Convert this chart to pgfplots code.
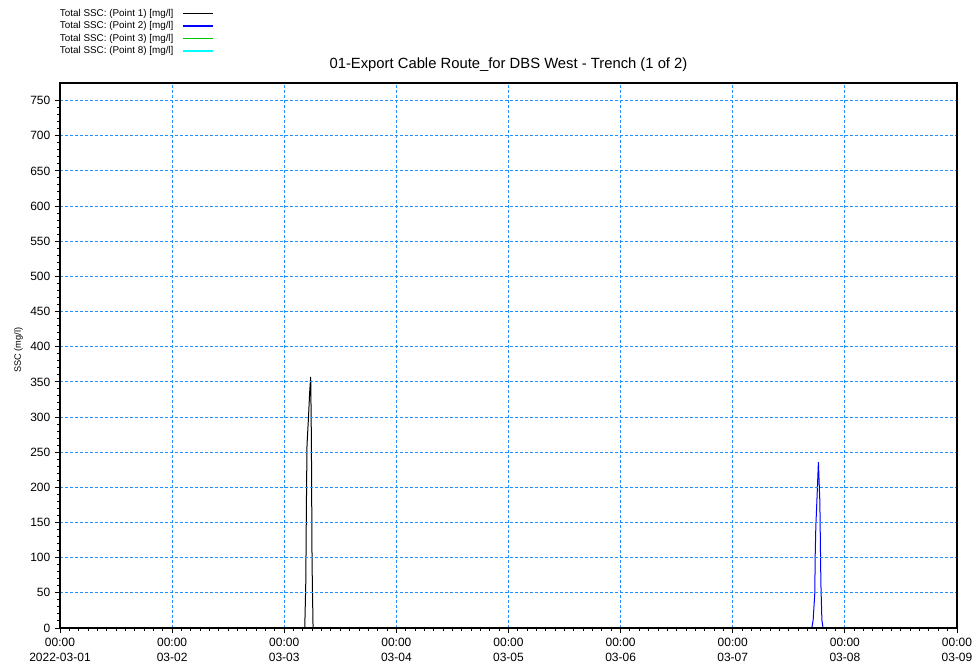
\documentclass[border=0pt]{standalone}
\usepackage{fontspec}
\setmainfont{Liberation Sans}
\usepackage{pgfplots}
\pgfplotsset{compat=1.18}
\definecolor{gridblue}{RGB}{30,144,255}
\definecolor{ptgreen}{RGB}{0,200,0}
\definecolor{ptcyan}{RGB}{0,255,255}

\begin{document}
\begin{tikzpicture}
\useasboundingbox (0,0) rectangle (730.5pt,501pt);
\begin{axis}[
    at={(45pt,30pt)}, anchor=south west,
    scale only axis, width=672.75pt, height=408.75pt,
    xmin=0, xmax=8, ymin=0, ymax=775,
    xtick={0,...,8},
    xticklabels={{00:00\\2022-03-01},{00:00\\03-02},{00:00\\03-03},{00:00\\03-04},{00:00\\03-05},{00:00\\03-06},{00:00\\03-07},{00:00\\03-08},{00:00\\03-09}},
    minor x tick num=11,
    ytick={0,50,...,750},
    minor y tick num=4,
    tick pos=left, tick align=outside,
    major tick length=3.75pt, minor tick length=2.25pt,
    every tick/.style={black, line width=0.75pt},
    axis line style={line width=0.9pt},
    grid=major,
    major grid style={gridblue, line width=0.75pt, dash pattern=on 2.25pt off 1.5pt},
    axis on top,
    tick label style={font=\fontsize{9}{11.25}\selectfont},
    xticklabel style={align=center},
    /pgf/number format/assume math mode=true,
    title={01-Export Cable Route\_for DBS West - Trench (1 of 2)},
    title style={font=\fontsize{11.1}{13}\selectfont, at={(axis description cs:0.5,1)}, anchor=base, yshift=4.5pt},
    ylabel={SSC (mg/l)},
    ylabel style={font=\fontsize{6.9}{8}\selectfont, at={(axis description cs:-0.0462,0.51)}, anchor=center},
    legend plot pos=right,
    legend cell align=left,
    legend image code/.code={\path (0pt,0pt); \draw[#1, line width=1pt] (4.5pt,0pt) -- (27pt,0pt);},
    legend style={draw=none, fill=none, at={(axis description cs:0,1.1445)}, anchor=north west, xshift=-5.25pt,
        font=\fontsize{7.4}{8}\selectfont, row sep=0pt,
        nodes={text height=5.7pt, text depth=1.5pt, inner ysep=1.1pt}},
]
\addplot[black, line width=0.75pt] coordinates {
    (0,0) (2.183,0) (2.192,64) (2.198,182) (2.203,260) (2.216,299)
    (2.227,336) (2.236,357) (2.242,268) (2.248,92) (2.257,0) (8,0)
};
\addlegendentry{Total SSC: (Point 1) [mg/l]}
\addplot[blue, line width=0.75pt] coordinates {
    (0,0) (6.705,0) (6.717,11) (6.732,50) (6.735,100) (6.741,144)
    (6.750,179) (6.764,236) (6.777,179) (6.786,64) (6.795,11) (6.806,0) (8,0)
};
\addlegendentry{Total SSC: (Point 2) [mg/l]}
\addplot[ptgreen, line width=0.75pt] coordinates {(0,0) (8,0)};
\addlegendentry{Total SSC: (Point 3) [mg/l]}
\addplot[ptcyan, line width=0.75pt] coordinates {(0,0) (8,0)};
\addlegendentry{Total SSC: (Point 8) [mg/l]}
\end{axis}
\end{tikzpicture}
\end{document}
